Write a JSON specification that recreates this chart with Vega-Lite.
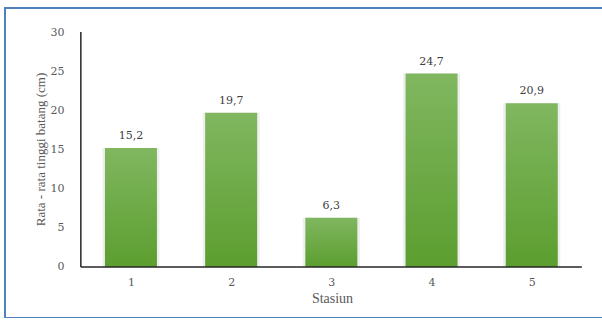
{
  "$schema": "https://vega.github.io/schema/vega-lite/v6.json",
  "width": 600,
  "height": 310,
  "autosize": {"type": "none"},
  "padding": {"left": 5, "top": 8, "right": 0, "bottom": 0},
  "background": "white",
  "config": {
    "view": {"stroke": "#4f81bd", "strokeWidth": 2},
    "font": "Liberation Serif",
    "locale": {"number": {"decimal": ",", "thousands": ".", "grouping": [3], "currency": ["", ""]}}
  },
  "data": {"values": [
    {"stasiun": 1, "tinggi": 15.2},
    {"stasiun": 2, "tinggi": 19.7},
    {"stasiun": 3, "tinggi": 6.3},
    {"stasiun": 4, "tinggi": 24.7},
    {"stasiun": 5, "tinggi": 20.9}
  ]},
  "encoding": {
    "x": {
      "field": "stasiun", "type": "quantitative",
      "scale": {"domain": [-0.207, 5.681], "nice": false, "zero": false},
      "axis": {
        "title": "Stasiun", "values": [1, 2, 3, 4, 5], "format": "d",
        "offset": -51, "domain": false, "ticks": false, "grid": false,
        "labelFont": "DejaVu Serif", "labelFontSize": 11, "labelColor": "#595959", "labelPadding": 9,
        "titleFont": "Liberation Serif", "titleFontSize": 14, "titleFontWeight": "normal", "titleColor": "#595959",
        "titleX": 327, "titleY": 31, "titleBaseline": "middle", "titleAnchor": null
      }
    },
    "y": {
      "field": "tinggi", "type": "quantitative",
      "scale": {"domain": [-6.511, 33.064], "nice": false, "zero": false},
      "axis": {
        "title": "Rata - rata tinggi batang (cm)", "values": [0, 5, 10, 15, 20, 25, 30],
        "offset": -72, "domain": false, "ticks": false, "grid": false,
        "labelFont": "DejaVu Serif", "labelFontSize": 11, "labelColor": "#595959", "labelPadding": 13,
        "titleFont": "Liberation Serif", "titleFontSize": 13, "titleFontWeight": "normal", "titleColor": "#595959",
        "titleY": 141, "titleX": -37, "titleBaseline": "middle", "titleAnchor": null
      }
    }
  },
  "layer": [
    {
      "mark": {"type": "bar", "width": 57, "color": "#e2e2e2", "opacity": 0.6},
      "encoding": {"y2": {"datum": 0}}
    },
    {
      "mark": {
        "type": "bar", "width": 52,
        "color": {
          "gradient": "linear", "x1": 0, "y1": 0, "x2": 0, "y2": 1,
          "stops": [{"offset": 0, "color": "#80b760"}, {"offset": 1, "color": "#5c9e2f"}]
        }
      },
      "encoding": {"y2": {"datum": 0}}
    },
    {
      "mark": {"type": "text", "baseline": "bottom", "dy": -7, "fontSize": 11, "font": "DejaVu Serif", "color": "#404040"},
      "encoding": {"text": {"field": "tinggi", "type": "quantitative", "format": ".1f"}}
    },
    {
      "data": {"values": [{"x": 0.5, "x2": 5.5, "y": 0}]},
      "mark": {"type": "rule", "color": "#262626", "strokeWidth": 1.5},
      "encoding": {
        "x": {"field": "x", "type": "quantitative"},
        "x2": {"field": "x2"},
        "y": {"field": "y", "type": "quantitative"}
      }
    },
    {
      "data": {"values": [{"x": 0.5, "y": 0, "y2": 30}]},
      "mark": {"type": "rule", "color": "#262626", "strokeWidth": 1.5},
      "encoding": {
        "x": {"field": "x", "type": "quantitative"},
        "y": {"field": "y", "type": "quantitative"},
        "y2": {"field": "y2"}
      }
    }
  ]
}
